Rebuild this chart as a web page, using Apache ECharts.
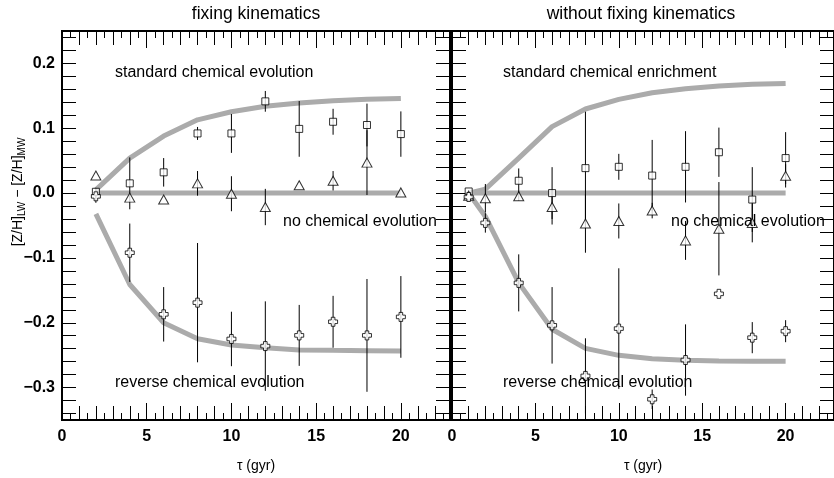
<!DOCTYPE html>
<html>
<head>
<meta charset="utf-8">
<script src="https://cdn.jsdelivr.net/npm/echarts@6/dist/echarts.min.js"></script>
<style>
  html, body { margin: 0; padding: 0; background: #fff; }
  #chart { width: 834px; height: 478px; }
</style>
</head>
<body>
<div id="chart"></div>
<script>
// ---- Panel 1: fixing kinematics (ages in Gyr) ----
const fixX = [2, 4, 6, 8, 10, 12, 14, 16, 18, 20];
const fixStandard = [0.005, 0.054, 0.088, 0.113, 0.1255, 0.134, 0.139, 0.1425, 0.1446, 0.146];
const fixNone     = [0, 0, 0, 0, 0, 0, 0, 0, 0, 0];
const fixReverse  = [-0.032, -0.141, -0.200, -0.2246, -0.2344, -0.2385, -0.242, -0.2426, -0.243, -0.2437];
const fixSquare     = [0.002, 0.015, 0.032, 0.092, 0.092, 0.1415, 0.099, 0.110, 0.105, 0.091];
const fixSquareErr  = [0.006, 0.040, 0.022, 0.010, 0.030, 0.016, 0.043, 0.020, 0.033, 0.035];
const fixTriangle    = [0.027, -0.007, -0.010, 0.015, -0.001, -0.0215, 0.012, 0.019, 0.047, 0.001];
const fixTriangleErr = [0, 0, 0, 0.019, 0.027, 0.028, 0, 0.015, 0.050, 0];
const fixCross    = [-0.005, -0.092, -0.187, -0.169, -0.225, -0.236, -0.2195, -0.1985, -0.2195, -0.191];
const fixCrossErr = [0.010, 0.045, 0.042, 0.092, 0.042, 0.069, 0.047, 0.040, 0.087, 0.063];

// ---- Panel 2: without fixing kinematics ----
const freeX = [1, 2, 4, 6, 8, 10, 12, 14, 16, 18, 20];
const freeStandard = [0, 0.006, 0.054, 0.1025, 0.1297, 0.1446, 0.1548, 0.161, 0.165, 0.1677, 0.169];
const freeNone     = [0, 0, 0, 0, 0, 0, 0, 0, 0, 0, 0];
const freeReverse  = [0, -0.036, -0.1385, -0.210, -0.2395, -0.2503, -0.2554, -0.258, -0.259, -0.2595, -0.2595];
const freeSquare     = [0.0025, null, 0.019, 0.000, 0.0385, 0.0405, 0.027, 0.0405, 0.063, -0.010, 0.054];
const freeSquareErr  = [0, 0, 0.019, 0.040, 0.087, 0.020, 0.055, 0.055, 0.038, 0.050, 0.040];
const freeTriangle    = [-0.004, -0.008, -0.005, -0.0215, -0.047, -0.043, -0.027, -0.073, -0.055, -0.046, 0.0266];
const freeTriangleErr = [0, 0.022, 0.007, 0.027, 0.045, 0.027, 0.012, 0.030, 0.072, 0.030, 0.018];
const freeCross    = [-0.006, -0.046, -0.1385, -0.204, -0.282, -0.209, -0.318, -0.2575, -0.1554, -0.223, -0.213];
const freeCrossErr = [0, 0.015, 0.044, 0.059, 0.058, 0.093, 0.015, 0.055, 0, 0.024, 0.017];

// ---- Axes ----
const panelTitles = ['fixing kinematics', 'without fixing kinematics'];
const xLabelTicks = [0, 5, 10, 15, 20];
const yLabelTicks = [-0.3, -0.2, -0.1, 0.0, 0.1, 0.2];
const X_MIN = 0, X_MAX = 22.9, Y_MIN = -0.35, Y_MAX = 0.25;

function steps(from, to, step) {
  const out = [];
  for (let v = from; v <= to + 1e-9; v += step) out.push(Math.round(v * 1000) / 1000);
  return out;
}
const xIntTicks = steps(0, 22, 1);
const xHalfTicks = steps(0.5, 22.5, 1);
const yMinorTicks = steps(-0.34, 0.24, 0.02);

const FONT = '"Liberation Sans", Arial, Helvetica, sans-serif';
const GRAY = '#ababab';

const grids = [
  { left: 62, top: 31, width: 388, height: 390 },
  { left: 452, top: 31, width: 388, height: 390 }
];

const axisLine = { show: true, onZero: false, lineStyle: { color: '#000', width: 2 } };

function xAxis(gi, position, tickValues, tickLen, withLabels) {
  return {
    type: 'value', gridIndex: gi, position, min: X_MIN, max: X_MAX,
    axisLine,
    splitLine: { show: false },
    axisTick: { show: true, inside: true, length: tickLen, customValues: tickValues,
                lineStyle: { color: '#000', width: 1 } },
    axisLabel: withLabels
      ? { show: true, customValues: xLabelTicks, margin: 9, color: '#000',
          fontFamily: FONT, fontSize: 16, fontWeight: 'bold' }
      : { show: false },
    name: withLabels ? 'τ (gyr)' : '',
    nameLocation: 'middle', nameGap: 39,
    nameTextStyle: { fontFamily: FONT, fontSize: 14, color: '#000' }
  };
}
function yAxis(gi, position, withLabels) {
  return {
    type: 'value', gridIndex: gi, position, min: Y_MIN, max: Y_MAX,
    axisLine,
    splitLine: { show: false },
    axisTick: { show: true, inside: true, length: 14, customValues: yMinorTicks,
                lineStyle: { color: '#000', width: 1 } },
    axisLabel: withLabels
      ? { show: true, customValues: yLabelTicks, margin: 7, color: '#000',
          fontFamily: FONT, fontSize: 16, fontWeight: 'bold',
          formatter: v => (v < -1e-9 ? '\u2212' : '') + Math.abs(v).toFixed(1) }
      : { show: false }
  };
}

const xAxes = [], yAxes = [];
[0, 1].forEach(gi => {
  xAxes.push(xAxis(gi, 'bottom', xLabelTicks, 17, true));
  xAxes.push(xAxis(gi, 'bottom', xIntTicks, 14, false));
  xAxes.push(xAxis(gi, 'bottom', xHalfTicks, 7, false));
  xAxes.push(xAxis(gi, 'top', xLabelTicks, 17, false));
  xAxes.push(xAxis(gi, 'top', xIntTicks, 14, false));
  xAxes.push(xAxis(gi, 'top', xHalfTicks, 7, false));
  yAxes.push(yAxis(gi, 'left', gi === 0));
  yAxes.push(yAxis(gi, 'right', false));
});

// ---- Series ----
const crossPath = 'path://M3,0H7V3H10V7H7V10H3V7H0V3H3Z';
const panels = [
  { x: fixX, std: fixStandard, none: fixNone, rev: fixReverse,
    sq: fixSquare, sqE: fixSquareErr, tri: fixTriangle, triE: fixTriangleErr,
    cr: fixCross, crE: fixCrossErr },
  { x: freeX, std: freeStandard, none: freeNone, rev: freeReverse,
    sq: freeSquare, sqE: freeSquareErr, tri: freeTriangle, triE: freeTriangleErr,
    cr: freeCross, crE: freeCrossErr }
];

function pairs(xs, ys) {
  return xs.map((x, i) => [x, ys[i]]).filter(p => p[1] !== null);
}
function triples(xs, ys, es) {
  return xs.map((x, i) => [x, ys[i], es[i]]).filter(p => p[1] !== null && p[2] > 0);
}

const series = [];
panels.forEach((p, gi) => {
  const axes = { xAxisIndex: gi * 6, yAxisIndex: gi * 2 };
  [p.std, p.none, p.rev].forEach(curve => {
    series.push(Object.assign({
      type: 'line', data: pairs(p.x, curve), symbol: 'none', z: 1,
      lineStyle: { color: GRAY, width: 5 }, silent: true, animation: false
    }, axes));
  });
  const bars = [].concat(triples(p.x, p.sq, p.sqE), triples(p.x, p.tri, p.triE), triples(p.x, p.cr, p.crE));
  series.push(Object.assign({
    type: 'custom', data: bars, z: 2, animation: false, clip: true,
    renderItem: (params, api) => {
      const x = api.value(0), y = api.value(1), e = api.value(2);
      const a = api.coord([x, y + e]);
      const b = api.coord([x, y - e]);
      return { type: 'line', shape: { x1: a[0], y1: a[1], x2: b[0], y2: b[1] },
               style: { stroke: '#000', lineWidth: 1 } };
    }
  }, axes));
  const markerStyle = { color: '#fff', borderColor: '#000', borderWidth: 1 };
  series.push(Object.assign({ type: 'scatter', data: pairs(p.x, p.sq), symbol: 'rect',
    symbolSize: 7, itemStyle: markerStyle, z: 3, animation: false }, axes));
  series.push(Object.assign({ type: 'scatter', data: pairs(p.x, p.tri), symbol: 'triangle',
    symbolSize: [10, 9], itemStyle: markerStyle, z: 3, animation: false }, axes));
  series.push(Object.assign({ type: 'scatter', data: pairs(p.x, p.cr), symbol: crossPath,
    symbolSize: 9, itemStyle: markerStyle, z: 4, animation: false }, axes));
});

// ---- Text annotations ----
function txt(x, y, text, size, align) {
  return { type: 'text', x, y, z: 10,
    style: { text, fill: '#000', font: size + 'px ' + FONT, align: align || 'left', verticalAlign: 'middle' } };
}
const graphics = [
  txt(256, 14, panelTitles[0], 17.5, 'center'),
  txt(641, 14, panelTitles[1], 17.5, 'center'),
  txt(115, 73, 'standard chemical evolution', 16),
  txt(283, 222, 'no chemical evolution', 16),
  txt(115, 383, 'reverse chemical evolution', 16),
  txt(503, 73, 'standard chemical enrichment', 16),
  txt(671, 222, 'no chemical evolution', 16),
  txt(503, 383, 'reverse chemical evolution', 16),
  { type: 'text', x: 18, y: 192, rotation: Math.PI / 2, z: 10,
    style: {
      text: '{m|[Z/H]}{s|LW}{m| \u2212 [Z/H]}{s|MW}',
      align: 'center', verticalAlign: 'middle', fill: '#000',
      rich: {
        m: { fontFamily: FONT, fontSize: 14, lineHeight: 18, verticalAlign: 'middle', fill: '#000' },
        s: { fontFamily: FONT, fontSize: 10, lineHeight: 10, verticalAlign: 'bottom', fill: '#000' }
      }
    } }
];

const chart = echarts.init(document.getElementById('chart'), null, { renderer: 'canvas' });
chart.setOption({
  backgroundColor: '#fff',
  animation: false,
  grid: grids,
  xAxis: xAxes,
  yAxis: yAxes,
  series,
  graphic: graphics
});
</script>
</body>
</html>
